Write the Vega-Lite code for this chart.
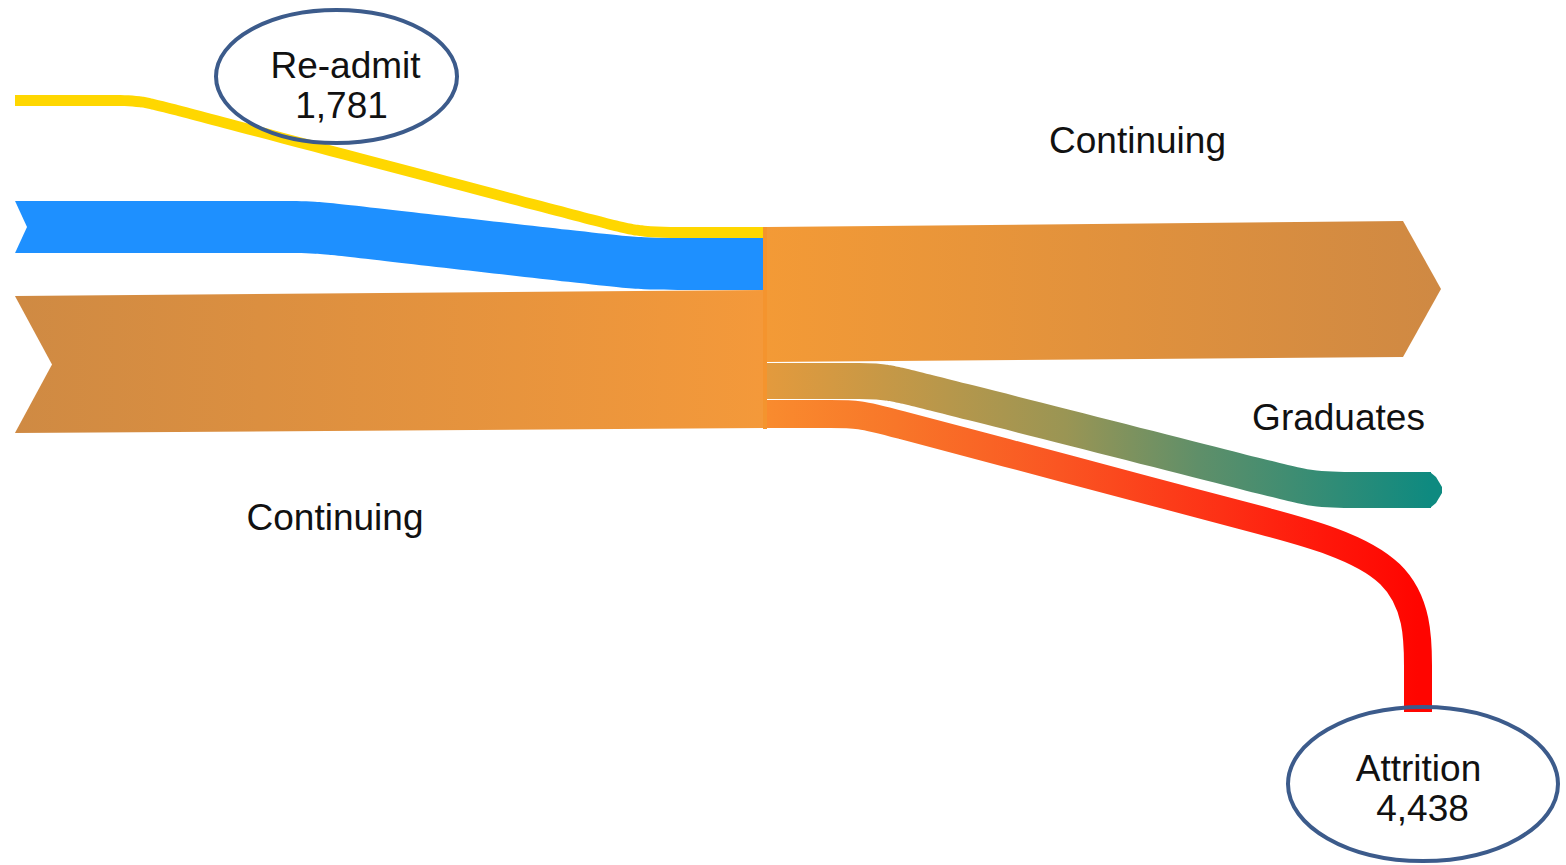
{
  "$schema": "https://vega.github.io/schema/vega-lite/v6.json",
  "width": 1566,
  "height": 865,
  "padding": 0,
  "autosize": "none",
  "background": "#ffffff",
  "config": {"view": {"stroke": null}},
  "datasets": {
    "bands": [
      {"band": "readmit", "x": 15, "y": 95, "y2": 106},
      {"band": "readmit", "x": 60, "y": 95, "y2": 106},
      {"band": "readmit", "x": 110, "y": 95, "y2": 106},
      {"band": "readmit", "x": 140, "y": 95, "y2": 106},
      {"band": "readmit", "x": 170, "y": 102.9, "y2": 113.9},
      {"band": "readmit", "x": 610, "y": 219.1, "y2": 230.1},
      {"band": "readmit", "x": 640, "y": 227, "y2": 238},
      {"band": "readmit", "x": 700, "y": 227, "y2": 238},
      {"band": "readmit", "x": 764, "y": 227, "y2": 238},
      {"band": "new", "x": 15, "y": 201, "y2": 253},
      {"band": "new", "x": 200, "y": 201, "y2": 253},
      {"band": "new", "x": 280, "y": 201, "y2": 253},
      {"band": "new", "x": 315, "y": 201, "y2": 253},
      {"band": "new", "x": 350, "y": 205, "y2": 257},
      {"band": "new", "x": 605, "y": 234, "y2": 286},
      {"band": "new", "x": 640, "y": 238, "y2": 290},
      {"band": "new", "x": 700, "y": 238, "y2": 290},
      {"band": "new", "x": 764, "y": 238, "y2": 290},
      {"band": "contL", "x": 15, "y": 296, "y2": 433},
      {"band": "contL", "x": 764, "y": 290, "y2": 428},
      {"band": "notchNew", "x": 14, "y": 198.8, "y2": 255.2},
      {"band": "notchNew", "x": 27, "y": 227, "y2": 227},
      {"band": "notchCont", "x": 14, "y": 294.2, "y2": 434.8},
      {"band": "notchCont", "x": 52, "y": 364.5, "y2": 364.5},
      {"band": "contR", "x": 767, "y": 227, "y2": 362},
      {"band": "contR", "x": 1403, "y": 221, "y2": 357},
      {"band": "contR", "x": 1441, "y": 289, "y2": 289},
      {"band": "grad", "x": 767, "y": 363, "y2": 399},
      {"band": "grad", "x": 820, "y": 363, "y2": 399},
      {"band": "grad", "x": 850, "y": 363, "y2": 399},
      {"band": "grad", "x": 885, "y": 363, "y2": 399},
      {"band": "grad", "x": 920, "y": 371.9, "y2": 407.9},
      {"band": "grad", "x": 1280, "y": 463.1, "y2": 499.1},
      {"band": "grad", "x": 1315, "y": 472, "y2": 508},
      {"band": "grad", "x": 1360, "y": 472, "y2": 508},
      {"band": "grad", "x": 1431, "y": 472, "y2": 508},
      {"band": "gradTip", "x": 1430, "y": 472, "y2": 508},
      {"band": "gradTip", "x": 1436, "y": 477, "y2": 503},
      {"band": "gradTip", "x": 1442, "y": 487, "y2": 493}
    ],
    "attr": [
      {"i": 0, "x": 767, "y": 414},
      {"i": 1, "x": 800, "y": 414},
      {"i": 2, "x": 830, "y": 414},
      {"i": 3, "x": 860, "y": 414},
      {"i": 4, "x": 890, "y": 422},
      {"i": 5, "x": 1000, "y": 451.1},
      {"i": 6, "x": 1150, "y": 490.9},
      {"i": 7, "x": 1250, "y": 517.4},
      {"i": 8, "x": 1418, "y": 561.9},
      {"i": 9, "x": 1418, "y": 680},
      {"i": 10, "x": 1418, "y": 712}
    ],
    "nodes": [
      {"node": "Continuing", "x": 763, "x2": 767, "y": 227, "y2": 429}
    ],
    "ovals": [
      {"name": "Re-admit", "x": 336.5, "y": 76.5},
      {"name": "Attrition", "x": 1423, "y": 784}
    ],
    "labels": [
      {"label": "Re-admit", "x": 345.5, "y": 78},
      {"label": "1,781", "x": 341.5, "y": 118},
      {"label": "Continuing", "x": 1137.5, "y": 153},
      {"label": "Continuing", "x": 335, "y": 530},
      {"label": "Graduates", "x": 1338.5, "y": 430},
      {"label": "Attrition", "x": 1418.5, "y": 781},
      {"label": "4,438", "x": 1422.5, "y": 821}
    ]
  },
  "layer": [
    {
      "data": {"name": "bands"},
      "transform": [{"filter": "datum.band === 'contL'"}],
      "mark": {"type": "area", "interpolate": "linear",
        "color": {"gradient": "linear", "x1": 0, "y1": 0, "x2": 1, "y2": 0,
          "stops": [{"offset": 0, "color": "#cf8a43"}, {"offset": 1, "color": "#f4993a"}]}},
      "encoding": {
        "x": {"field": "x", "type": "quantitative", "scale": {"domain": [0, 1566], "nice": false, "zero": false}, "axis": null},
        "y": {"field": "y", "type": "quantitative", "scale": {"domain": [0, 865], "nice": false, "zero": false, "reverse": true}, "axis": null},
        "y2": {"field": "y2"}
      }
    },
    {
      "data": {"name": "bands"},
      "transform": [{"filter": "datum.band === 'new'"}],
      "mark": {"type": "area", "interpolate": "basis", "color": "#1e90ff"},
      "encoding": {
        "x": {"field": "x", "type": "quantitative", "scale": {"domain": [0, 1566], "nice": false, "zero": false}, "axis": null},
        "y": {"field": "y", "type": "quantitative", "scale": {"domain": [0, 865], "nice": false, "zero": false, "reverse": true}, "axis": null},
        "y2": {"field": "y2"}
      }
    },
    {
      "data": {"name": "bands"},
      "transform": [{"filter": "datum.band === 'readmit'"}],
      "mark": {"type": "area", "interpolate": "basis", "color": "#ffd700"},
      "encoding": {
        "x": {"field": "x", "type": "quantitative", "scale": {"domain": [0, 1566], "nice": false, "zero": false}, "axis": null},
        "y": {"field": "y", "type": "quantitative", "scale": {"domain": [0, 865], "nice": false, "zero": false, "reverse": true}, "axis": null},
        "y2": {"field": "y2"}
      }
    },
    {
      "data": {"name": "bands"},
      "transform": [{"filter": "datum.band === 'notchNew' || datum.band === 'notchCont'"}],
      "mark": {"type": "area", "interpolate": "linear", "color": "#ffffff"},
      "encoding": {
        "x": {"field": "x", "type": "quantitative", "scale": {"domain": [0, 1566], "nice": false, "zero": false}, "axis": null},
        "y": {"field": "y", "type": "quantitative", "scale": {"domain": [0, 865], "nice": false, "zero": false, "reverse": true}, "axis": null},
        "y2": {"field": "y2"},
        "detail": {"field": "band"}
      }
    },
    {
      "data": {"name": "bands"},
      "transform": [{"filter": "datum.band === 'contR'"}],
      "mark": {"type": "area", "interpolate": "linear",
        "color": {"gradient": "linear", "x1": 0, "y1": 0, "x2": 1, "y2": 0,
          "stops": [{"offset": 0, "color": "#f39a36"}, {"offset": 1, "color": "#cf8943"}]}},
      "encoding": {
        "x": {"field": "x", "type": "quantitative", "scale": {"domain": [0, 1566], "nice": false, "zero": false}, "axis": null},
        "y": {"field": "y", "type": "quantitative", "scale": {"domain": [0, 865], "nice": false, "zero": false, "reverse": true}, "axis": null},
        "y2": {"field": "y2"}
      }
    },
    {
      "data": {"name": "bands"},
      "transform": [{"filter": "datum.band === 'grad'"}],
      "mark": {"type": "area", "interpolate": "basis",
        "color": {"gradient": "linear", "x1": 0, "y1": 0, "x2": 1, "y2": 0,
          "stops": [{"offset": 0, "color": "#e39a3d"}, {"offset": 0.45, "color": "#9a9554"}, {"offset": 0.65, "color": "#5f8f69"}, {"offset": 1, "color": "#0e8a80"}]}},
      "encoding": {
        "x": {"field": "x", "type": "quantitative", "scale": {"domain": [0, 1566], "nice": false, "zero": false}, "axis": null},
        "y": {"field": "y", "type": "quantitative", "scale": {"domain": [0, 865], "nice": false, "zero": false, "reverse": true}, "axis": null},
        "y2": {"field": "y2"}
      }
    },
    {
      "data": {"name": "bands"},
      "transform": [{"filter": "datum.band === 'gradTip'"}],
      "mark": {"type": "area", "interpolate": "linear", "color": "#0e8a80"},
      "encoding": {
        "x": {"field": "x", "type": "quantitative", "scale": {"domain": [0, 1566], "nice": false, "zero": false}, "axis": null},
        "y": {"field": "y", "type": "quantitative", "scale": {"domain": [0, 865], "nice": false, "zero": false, "reverse": true}, "axis": null},
        "y2": {"field": "y2"}
      }
    },
    {
      "data": {"name": "attr"},
      "mark": {"type": "line", "interpolate": "basis", "strokeWidth": 28, "strokeCap": "butt",
        "stroke": {"gradient": "linear", "x1": 0, "y1": 0, "x2": 1, "y2": 0,
          "stops": [{"offset": 0, "color": "#f98b2e"}, {"offset": 0.2, "color": "#f87629"}, {"offset": 0.45, "color": "#fa5522"}, {"offset": 0.7, "color": "#fd3015"}, {"offset": 0.85, "color": "#ff180b"}, {"offset": 1, "color": "#ff0500"}]}},
      "encoding": {
        "x": {"field": "x", "type": "quantitative", "scale": {"domain": [0, 1566], "nice": false, "zero": false}, "axis": null},
        "y": {"field": "y", "type": "quantitative", "scale": {"domain": [0, 865], "nice": false, "zero": false, "reverse": true}, "axis": null},
        "order": {"field": "i", "type": "quantitative"}
      }
    },
    {
      "data": {"name": "nodes"},
      "mark": {"type": "rect", "color": "#f4942e"},
      "encoding": {
        "x": {"field": "x", "type": "quantitative", "scale": {"domain": [0, 1566], "nice": false, "zero": false}, "axis": null},
        "x2": {"field": "x2"},
        "y": {"field": "y", "type": "quantitative", "scale": {"domain": [0, 865], "nice": false, "zero": false, "reverse": true}, "axis": null},
        "y2": {"field": "y2"}
      }
    },
    {
      "data": {"name": "ovals"},
      "transform": [{"filter": "datum.name === 'Re-admit'"}],
      "mark": {"type": "point", "filled": false, "opacity": 1, "color": "#3c5b8b", "strokeWidth": 4, "size": 58081,
        "shape": "M-1,0C-1,-0.3048,-0.5523,-0.5519,0,-0.5519C0.5523,-0.5519,1,-0.3048,1,0C1,0.3048,0.5523,0.5519,0,0.5519C-0.5523,0.5519,-1,0.3048,-1,0Z"},
      "encoding": {
        "x": {"field": "x", "type": "quantitative", "scale": {"domain": [0, 1566], "nice": false, "zero": false}, "axis": null},
        "y": {"field": "y", "type": "quantitative", "scale": {"domain": [0, 865], "nice": false, "zero": false, "reverse": true}, "axis": null}
      }
    },
    {
      "data": {"name": "ovals"},
      "transform": [{"filter": "datum.name === 'Attrition'"}],
      "mark": {"type": "point", "filled": false, "opacity": 1, "color": "#3c5b8b", "strokeWidth": 4, "size": 72900,
        "shape": "M-1,0C-1,-0.3150,-0.5523,-0.5704,0,-0.5704C0.5523,-0.5704,1,-0.3150,1,0C1,0.3150,0.5523,0.5704,0,0.5704C-0.5523,0.5704,-1,0.3150,-1,0Z"},
      "encoding": {
        "x": {"field": "x", "type": "quantitative", "scale": {"domain": [0, 1566], "nice": false, "zero": false}, "axis": null},
        "y": {"field": "y", "type": "quantitative", "scale": {"domain": [0, 865], "nice": false, "zero": false, "reverse": true}, "axis": null}
      }
    },
    {
      "data": {"name": "labels"},
      "mark": {"type": "text", "font": "Liberation Sans", "fontSize": 37, "color": "#111111", "align": "center", "baseline": "alphabetic"},
      "encoding": {
        "x": {"field": "x", "type": "quantitative", "scale": {"domain": [0, 1566], "nice": false, "zero": false}, "axis": null},
        "y": {"field": "y", "type": "quantitative", "scale": {"domain": [0, 865], "nice": false, "zero": false, "reverse": true}, "axis": null},
        "text": {"field": "label"}
      }
    }
  ]
}
